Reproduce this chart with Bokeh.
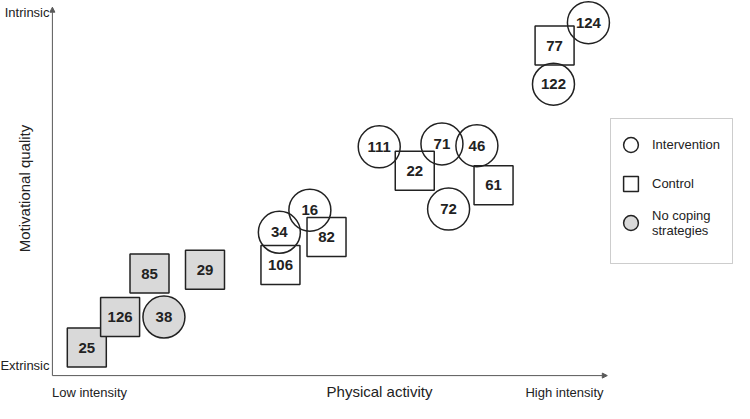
from bokeh.plotting import figure
from bokeh.models import (ColumnDataSource, Range1d, Arrow, NormalHead, Label,
                          Legend, LegendItem, BoxAnnotation)
from bokeh.core.properties import value
from bokeh.embed import file_html
from bokeh.resources import INLINE
import math

# ---- data (abstract positions: physical activity 0..10, motivational quality 0..10)
participant = ["25", "126", "85", "38", "29", "106", "34", "16", "82",
               "111", "22", "71", "46", "61", "72", "124", "77", "122"]
activity = [0.62, 1.22, 1.75, 2.01, 2.75, 4.11, 4.09, 4.64, 4.94,
            5.89, 6.53, 7.02, 7.65, 7.95, 7.14, 9.66, 9.05, 9.03]
motivation = [0.76, 1.59, 2.77, 1.59, 2.87, 3.00, 3.89, 4.49, 3.76,
              6.21, 5.56, 6.29, 6.24, 5.17, 4.52, 9.58, 8.96, 7.91]
group = ["Control", "Control", "Control", "Intervention", "Control",
         "Control", "Intervention", "Intervention", "Control",
         "Intervention", "Control", "Intervention", "Intervention", "Control",
         "Intervention", "Intervention", "Control", "Intervention"]
no_coping = [True, True, True, True, True, False, False, False, False,
             False, False, False, False, False, False, False, False, False]

axis_max = 10
x_end_labels = ["Low intensity", "High intensity"]
y_end_labels = ["Extrinsic", "Intrinsic"]
x_title = "Physical activity"
y_title = "Motivational quality"
legend_labels = ["Intervention", "Control", "No coping\nstrategies"]

FONT = "Liberation Sans"
TXT = "#222222"
LINE = "#222222"
AX = "#595959"
GRAY = "#d9d9d9"


def subset(grp, nc):
    idx = [i for i in range(len(participant)) if group[i] == grp and no_coping[i] == nc]
    return ColumnDataSource(dict(
        x=[activity[i] for i in idx],
        y=[motivation[i] for i in idx],
        label=[participant[i] for i in idx],
    ))


W, H = 734, 403
px_x, px_y = 55.49, 36.84      # pixels per unit
x0_px, y0_px = 51.9, 27.9      # origin offset from left / bottom

p = figure(width=W, height=H, output_backend="svg", toolbar_location=None,
           x_axis_type=None, y_axis_type=None, min_border=0,
           x_range=Range1d(-x0_px / px_x, (W - x0_px) / px_x),
           y_range=Range1d(-y0_px / px_y, (H - y0_px) / px_y))
p.outline_line_color = None
p.grid.visible = False
p.background_fill_color = "white"
p.border_fill_color = "white"

# axes with arrowheads
p.add_layout(Arrow(end=NormalHead(size=5, fill_color=AX, line_color=AX),
                   x_start=0, y_start=0, x_end=axis_max, y_end=0,
                   line_color=AX, line_width=1))
p.add_layout(Arrow(end=NormalHead(size=5, fill_color=AX, line_color=AX),
                   x_start=0, y_start=0, x_end=0, y_end=axis_max,
                   line_color=AX, line_width=1))

s_sq_g = subset("Control", True)
s_ci_g = subset("Intervention", True)
s_sq = subset("Control", False)
s_ci = subset("Intervention", False)

SQ, CI = 39, 42
r_sq_g = p.scatter("x", "y", source=s_sq_g, marker="square", size=SQ,
                   fill_color=GRAY, line_color=LINE, line_width=1.5)
r_ci_g = p.scatter("x", "y", source=s_ci_g, marker="circle", size=CI,
                   fill_color=GRAY, line_color=LINE, line_width=1.5)
r_sq = p.scatter("x", "y", source=s_sq, marker="square", size=SQ,
                 fill_color=None, line_color=LINE, line_width=1.5)
r_ci = p.scatter("x", "y", source=s_ci, marker="circle", size=CI,
                 fill_color=None, line_color=LINE, line_width=1.5)

for s in (s_sq_g, s_ci_g, s_sq, s_ci):
    p.text("x", "y", text="label", source=s, text_font=value(FONT),
           text_font_style="bold", text_font_size="15px", text_color=TXT,
           text_align="center", text_baseline="middle")

# axis end labels and titles
lab_kw = dict(x_units="screen", y_units="screen", text_font=FONT, text_color=TXT)
p.add_layout(Label(x=49, y=391, text=y_end_labels[1], text_align="right",
                   text_baseline="middle", text_font_size="13px", **lab_kw))
p.add_layout(Label(x=49, y=38, text=y_end_labels[0], text_align="right",
                   text_baseline="middle", text_font_size="13px", **lab_kw))
p.add_layout(Label(x=24, y=215, text=y_title, angle=math.pi / 2, text_align="center",
                   text_baseline="middle", text_font_size="15px", **lab_kw))
p.add_layout(Label(x=89, y=11, text=x_end_labels[0], text_align="center",
                   text_baseline="middle", text_font_size="13px", **lab_kw))
p.add_layout(Label(x=564, y=11, text=x_end_labels[1], text_align="center",
                   text_baseline="middle", text_font_size="13px", **lab_kw))
p.add_layout(Label(x=379, y=12, text=x_title, text_align="center",
                   text_baseline="middle", text_font_size="15px", **lab_kw))

# legend
legend = Legend(items=[LegendItem(label=legend_labels[0], renderers=[r_ci]),
                       LegendItem(label=legend_labels[1], renderers=[r_sq]),
                       LegendItem(label=legend_labels[2], renderers=[r_ci_g])],
                location=(610, 160), glyph_width=37, glyph_height=37,
                padding=2, spacing=2, label_standoff=3, margin=0,
                border_line_alpha=0, background_fill_alpha=0,
                label_text_font=FONT, label_text_font_size="13px",
                label_text_color=TXT)
p.add_layout(legend)
p.add_layout(BoxAnnotation(left=610, right=732, top=285, bottom=140,
                           left_units="screen", right_units="screen",
                           top_units="screen", bottom_units="screen",
                           fill_alpha=0, line_color=AX, line_width=1))

open("out.html", "w").write(file_html(p, INLINE))
